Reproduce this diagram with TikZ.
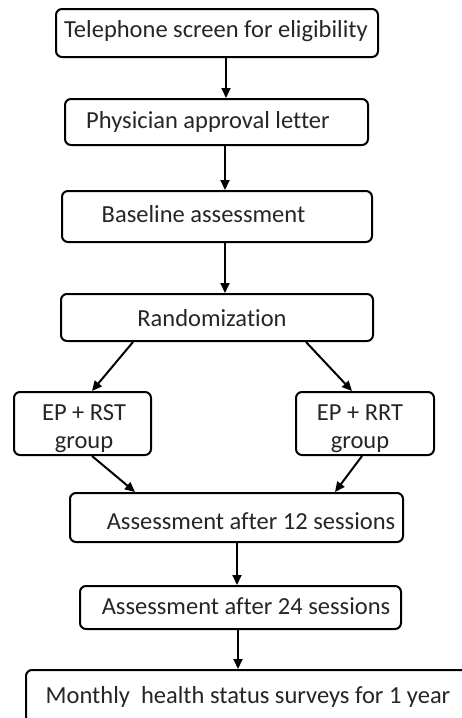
\documentclass[tikz,border=0pt]{standalone}
\usepackage{fontspec}
\setmainfont[Ligatures=NoCommon]{Carlito}
\usetikzlibrary{arrows.meta}
\tikzset{
  box/.style={draw=black, line width=2pt, rounded corners=6pt, inner sep=0pt},
  lbl/.style={inner sep=0pt, anchor=base, font=\fontsize{24.5}{28}\selectfont, text=black!85},
  arr/.style={line width=2pt, -{Triangle[length=10pt,width=9pt]}}
}
\begin{document}
\begin{tikzpicture}[x=1pt,y=-1pt]
\useasboundingbox (0,0) rectangle (462,718);
\clip (0,0) rectangle (462,718);
\fill[white] (0,0) rectangle (462,718);
% boxes
\node[box, minimum width=322pt, minimum height=48pt] (b1) at (217,33) {};
\node[box, minimum width=303pt, minimum height=46pt] (b2) at (216.5,122) {};
\node[box, minimum width=310pt, minimum height=51pt] (b3) at (217,216.5) {};
\node[box, minimum width=312pt, minimum height=47pt] (b4) at (217,317.5) {};
\node[box, minimum width=137pt, minimum height=63pt] (g1) at (82.5,423.5) {};
\node[box, minimum width=138pt, minimum height=63pt] (g2) at (365,423.5) {};
\node[box, minimum width=333pt, minimum height=49pt] (b5) at (236.5,517.5) {};
\node[box, minimum width=321pt, minimum height=43pt] (b6) at (240.5,607.5) {};
\node[box, minimum width=454pt, minimum height=65pt] (b7) at (253,702.5) {};
% labels
\node[lbl] (t1) at (216,37) {Telephone screen for eligibility};
\node[lbl] (t2) at (208,128) {Physician approval letter};
\node[lbl] (t3) at (203.5,222) {Baseline assessment};
\node[lbl] (t4) at (212,326) {Randomization};
\node[lbl] (t5a) at (84,420) {EP + RST};
\node[lbl] (t5b) at (84,448) {group};
\node[lbl] (t6a) at (360,420) {EP + RRT};
\node[lbl] (t6b) at (360,448) {group};
\node[lbl] (t7) at (251,529) {Assessment after 12 sessions};
\node[lbl] (t8) at (246,614) {Assessment after 24 sessions};
\node[lbl] (t9) at (248,703) {Monthly~ health status surveys for 1 year};
% arrows
\draw[arr] ([xshift=9pt]b1.south) -- ([xshift=9.5pt]b2.north);
\draw[arr] ([xshift=8.5pt]b2.south) -- ([xshift=8pt]b3.north);
\draw[arr] ([xshift=8pt]b3.south) -- ([xshift=8pt]b4.north);
\draw[arr] ([xshift=-84pt]b4.south) -- ([xshift=9.5pt]g1.north);
\draw[arr] ([xshift=89pt]b4.south) -- ([xshift=-13pt]g2.north);
\draw[arr] ([xshift=9.5pt]g1.south) -- ([xshift=-101.5pt]b5.north);
\draw[arr] ([xshift=-3pt]g2.south) -- ([xshift=98.5pt]b5.north);
\draw[arr] ([xshift=0.5pt]b5.south) -- ([xshift=-3.5pt]b6.north);
\draw[arr] ([xshift=-2.5pt]b6.south) -- ([xshift=-15pt]b7.north);
\end{tikzpicture}
\end{document}
